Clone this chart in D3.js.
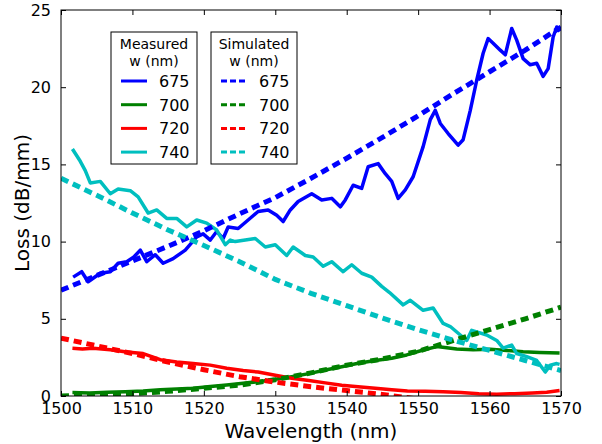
<!DOCTYPE html>
<html>
<head>
<meta charset="utf-8">
<script src="https://cdn.jsdelivr.net/npm/d3@7"></script>
<style>
    body { margin: 0; background: #fff; }
    svg { display: block; font-family: 'DejaVu Sans', sans-serif; }
</style>
</head>
<body>
<div id="svg"></div>
<script>
// 波长刻度、损耗刻度
var xTicks = [1500, 1510, 1520, 1530, 1540, 1550, 1560, 1570];
var yTicks = [0, 5, 10, 15, 20, 25];
var widths = ['675', '700', '720', '740'];
var colors = ['#0000ff', '#008000', '#ff0000', '#00bfbf'];

// 测量数据 [wavelength, loss]
var measured675 = [[1501.7,7.7],[1502.9,8.05],[1503.8,7.4],[1505.5,7.95],[1506.9,8.05],[1508,8.6],[1509.2,8.7],[1510.2,9.0],
    [1511.1,9.45],[1512,8.7],[1513.2,9.15],[1514.3,8.6],[1515.7,8.9],[1517.4,9.45],[1519,10.3],[1519.9,10.5],[1520.9,10.1],
    [1521.8,10.65],[1522.7,10.2],[1523.4,10.95],[1524.8,10.85],[1526.2,11.4],[1527.6,11.95],[1529,12.05],[1530.2,11.7],
    [1531.1,11.3],[1532.1,12.05],[1533.2,12.6],[1535.1,13.1],[1536.5,12.7],[1537.9,12.8],[1539.1,12.25],[1539.8,12.7],
    [1540.9,13.65],[1542.1,13.45],[1543,14.85],[1544.4,15.05],[1545.4,14.4],[1546.3,13.9],[1547.2,12.8],[1548.2,13.35],
    [1549.3,14.2],[1550.7,16.15],[1551.7,17.9],[1552.4,18.5],[1553.1,17.65],[1554.2,17.0],[1555.6,16.25],[1556.3,16.6],
    [1557.3,18.5],[1558.2,20.45],[1559.1,22.2],[1559.8,23.15],[1560.5,22.85],[1561.5,22.4],[1562.2,22.1],[1563.1,23.8],
    [1563.8,23.05],[1564.7,21.85],[1565.7,21.45],[1566.6,21.55],[1567.5,20.7],[1568.2,21.2],[1568.9,23.25],[1569.4,23.9],
    [1569.8,23.6]];
var measured700 = [[1501.6,0.22],[1504,0.2],[1506.5,0.25],[1509,0.28],[1511.5,0.32],[1513.9,0.4],[1516.2,0.45],[1518.5,0.5],
    [1520.9,0.62],[1523.2,0.72],[1525.5,0.82],[1527.6,0.93],[1530,1.08],[1532.3,1.25],[1534.7,1.45],[1537,1.68],[1539.3,1.9],
    [1541.6,2.12],[1544,2.3],[1546.3,2.44],[1548.4,2.66],[1550.7,2.98],[1552.6,3.2],[1555.4,3.05],[1557.7,3.0],[1560.1,3.02],
    [1562.4,2.95],[1564.7,2.87],[1567,2.82],[1569.8,2.78]];
var measured720 = [[1501.6,3.1],[1503,3.05],[1504.5,3.1],[1506.9,3.0],[1509.2,2.85],[1511.5,2.75],[1513.9,2.35],[1516.2,2.2],
    [1518.5,2.1],[1520.9,2.0],[1523.2,1.8],[1525.5,1.65],[1527.6,1.55],[1530,1.35],[1532.3,1.15],[1534.7,1.0],[1537,0.85],
    [1539.3,0.7],[1541.6,0.6],[1544,0.5],[1546.3,0.4],[1548.5,0.32],[1551,0.3],[1553.5,0.27],[1556,0.22],[1558.5,0.15],
    [1561,0.12],[1563.5,0.15],[1566,0.2],[1568,0.25],[1569.8,0.35]];
var measured740 = [[1501.6,16.0],[1502.7,15.2],[1503.4,14.6],[1504.1,13.8],[1505.5,13.9],[1506.9,13.1],[1508,13.4],[1509.7,13.3],
    [1510.8,12.9],[1512.2,11.85],[1513.4,12.05],[1514.8,11.5],[1516.2,11.5],[1517.6,10.95],[1519,11.4],[1520.4,11.2],
    [1521.8,10.75],[1523,9.8],[1523.7,10.1],[1524.4,10.0],[1527.2,10.2],[1528.6,9.65],[1530,9.8],[1531.6,9.1],[1532.5,9.65],
    [1534.2,9.1],[1535.3,9.0],[1536.7,8.4],[1537.9,8.7],[1539.5,8.05],[1540.7,8.5],[1542.1,7.95],[1543.5,7.7],[1544.9,7.1],
    [1546,6.7],[1547.9,5.9],[1548.9,6.2],[1550.7,5.55],[1552.1,5.7],[1553.5,4.7],[1554.5,4.5],[1555.9,3.95],[1556.8,3.6],
    [1557.5,4.25],[1558.2,4.15],[1559.6,3.95],[1561,3.6],[1561.9,3.1],[1563.1,3.3],[1563.8,2.75],[1565.2,2.55],[1566.6,2.3],
    [1567.8,1.55],[1568.5,2.0],[1569.4,2.1],[1569.8,2.05]];

// 仿真数据，每 5 nm 一个点
var simWavelength = [1500, 1505, 1510, 1515, 1520, 1525, 1530, 1535, 1540, 1545, 1550, 1555, 1560, 1565, 1570];
var simulated675 = [6.85, 7.8, 8.75, 9.7, 10.7, 11.8, 12.85, 14.1, 15.4, 16.75, 18.15, 19.6, 21.0, 22.4, 23.9];
var simulated700 = [0.0, 0.05, 0.15, 0.3, 0.5, 0.7, 1.05, 1.5, 2.0, 2.4, 2.9, 3.6, 4.3, 5.0, 5.75];
var simulated720 = [3.75, 3.25, 2.75, 2.2, 1.7, 1.25, 0.9, 0.6, 0.35, 0.1, -0.2, -0.5, -0.8, -1.1, -1.4];
var simulated740 = [14.1, 13.0, 11.85, 10.75, 9.75, 8.7, 7.55, 6.65, 5.85, 5.05, 4.3, 3.6, 2.95, 2.3, 1.65];

var measuredData = [measured675, measured700, measured720, measured740];
var simulatedData = [simulated675, simulated700, simulated720, simulated740].map(function (s) {
    return s.map(function (v, i) { return [simWavelength[i], v]; });
});

var width = 602;
var height = 444;
var plot = { left: 61, right: 561, top: 10, bottom: 396 };

var svg = d3.select('#svg')
    .append('svg')
    .attr('width', width)
    .attr('height', height);

var xScale = d3.scaleLinear()
    .domain([1500, 1570])
    .range([plot.left, plot.right]);
var yScale = d3.scaleLinear()
    .domain([0, 25])
    .range([plot.bottom, plot.top]);

svg.append('clipPath')
    .attr('id', 'clip')
    .append('rect')
    .attr('x', plot.left)
    .attr('y', plot.top)
    .attr('width', plot.right - plot.left)
    .attr('height', plot.bottom - plot.top);

var linePath = d3.line()
    .x(function (d) { return xScale(d[0]); })
    .y(function (d) { return yScale(d[1]); });

var lines = svg.append('g').attr('clip-path', 'url(#clip)');

// 测量曲线
lines.selectAll('path.measured')
    .data(measuredData)
    .enter()
    .append('path')
    .attr('class', 'measured')
    .attr('d', linePath)
    .attr('fill', 'none')
    .attr('stroke-width', 3.5)
    .attr('stroke-linejoin', 'round')
    .attr('stroke', function (d, i) { return colors[i]; });

// 仿真曲线
lines.selectAll('path.simulated')
    .data(simulatedData)
    .enter()
    .append('path')
    .attr('class', 'simulated')
    .attr('d', linePath)
    .attr('fill', 'none')
    .attr('stroke-width', 5)
    .attr('stroke-dasharray', '8,5')
    .attr('stroke', function (d, i) { return colors[i]; });

// 坐标轴，刻度朝内
function styleAxis(g) {
    g.select('.domain').remove();
    g.selectAll('.tick line').attr('stroke', '#000');
    g.selectAll('.tick text').attr('fill', '#000').attr('font-size', '16px')
        .attr('font-family', 'DejaVu Sans, sans-serif');
}
svg.append('g')
    .attr('transform', 'translate(0,' + plot.bottom + ')')
    .call(d3.axisBottom(xScale).tickValues(xTicks).tickSizeInner(-5).tickSizeOuter(0).tickPadding(7).tickFormat(d3.format('d')))
    .call(styleAxis);
svg.append('g')
    .attr('transform', 'translate(0,' + plot.top + ')')
    .call(d3.axisTop(xScale).tickValues(xTicks).tickSizeInner(-5).tickSizeOuter(0).tickFormat(''))
    .call(styleAxis);
svg.append('g')
    .attr('transform', 'translate(' + plot.left + ',0)')
    .call(d3.axisLeft(yScale).tickValues(yTicks).tickSizeInner(-5).tickSizeOuter(0).tickPadding(10))
    .call(styleAxis);
svg.append('g')
    .attr('transform', 'translate(' + plot.right + ',0)')
    .call(d3.axisRight(yScale).tickValues(yTicks).tickSizeInner(-5).tickSizeOuter(0).tickFormat(''))
    .call(styleAxis);

svg.append('rect')
    .attr('x', plot.left)
    .attr('y', plot.top)
    .attr('width', plot.right - plot.left)
    .attr('height', plot.bottom - plot.top)
    .attr('fill', 'none')
    .attr('stroke', '#000')
    .attr('stroke-width', 1);

// 轴标题
svg.append('text')
    .attr('x', (plot.left + plot.right) / 2)
    .attr('y', 438)
    .attr('text-anchor', 'middle')
    .attr('font-size', '20px')
    .text('Wavelength (nm)');
svg.append('text')
    .attr('transform', 'translate(29,' + (plot.top + plot.bottom) / 2 + ') rotate(-90)')
    .attr('text-anchor', 'middle')
    .attr('font-size', '20px')
    .text('Loss (dB/mm)');

// 图例
function drawLegend(x0, title, dashed) {
    var g = svg.append('g').attr('transform', 'translate(' + x0 + ',32)');
    g.append('rect')
        .attr('width', 86)
        .attr('height', 132)
        .attr('fill', '#fff')
        .attr('stroke', '#000');
    g.append('text')
        .attr('x', 43).attr('y', 17)
        .attr('text-anchor', 'middle')
        .attr('font-size', '14px')
        .text(title);
    g.append('text')
        .attr('x', 43).attr('y', 34)
        .attr('text-anchor', 'middle')
        .attr('font-size', '14px')
        .text('w (nm)');
    var items = g.selectAll('g.item')
        .data(widths)
        .enter()
        .append('g')
        .attr('class', 'item')
        .attr('transform', function (d, i) { return 'translate(0,' + (49 + i * 23.7) + ')'; });
    items.append('line')
        .attr('x1', 10).attr('x2', 36)
        .attr('stroke-width', 3)
        .attr('stroke-dasharray', dashed ? '6,3' : null)
        .attr('stroke', function (d, i) { return colors[i]; });
    items.append('text')
        .attr('x', 48)
        .attr('y', 6)
        .attr('font-size', '16px')
        .text(function (d) { return d; });
}
drawLegend(111, 'Measured', false);
drawLegend(211, 'Simulated', true);
</script>
</body>
</html>
